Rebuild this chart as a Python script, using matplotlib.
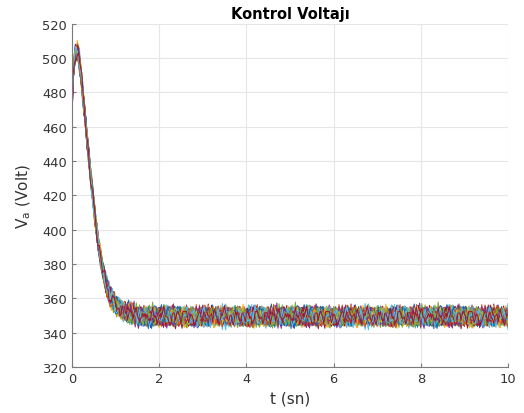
import numpy as np
import matplotlib
matplotlib.use("Agg")
import matplotlib.pyplot as plt

# sample time (s), 0.025 s step
t = np.round(np.arange(0, 10.001, 0.025), 3)

# mean transient, t = 0 ... 1.5 s
v_trans = [480, 490, 497, 502, 504, 504, 502, 497, 491, 485,
           479, 472, 466, 459, 452, 446, 439, 432, 426, 420,
           414, 408, 403, 398, 393, 389, 385, 381, 378, 375,
           372, 369, 367, 365, 363, 361.5, 360, 359, 358, 357,
           356, 355.5, 355, 354.5, 354, 353.7, 353.4, 353.1, 352.8, 352.5,
           352.2, 352, 351.8, 351.5, 351.2, 351, 350.8, 350.5, 350.2, 350,
           349.8]
v_steady = 349.5
v_mean = np.array(v_trans + [v_steady] * (len(t) - len(v_trans)))

# starting values at t = 0 for the different runs
v_start = [480, 472, 488, 462, 494, 476, 484]

# deviation around the mean (Volt), band is about +-6 V
noise = [1.2, 2.5, 0.4, -1.8, -3.1, -0.7, 1.9, 3.6, 2.2, -0.5, -2.4, -4.3,
         -2.0, 0.8, 1.5, -0.3, 2.7, 4.9, 3.1, 0.2, -1.6, -0.9, -3.5, -5.2,
         -2.8, 0.6, 2.0, 1.1, -1.3, 0.5, 3.3, 1.7, -0.8, -2.9, -1.2, 0.9,
         4.1, 5.6, 2.4, -0.2, -3.7, -2.1, 0.3, 1.8, -1.0, -4.6, -6.1, -3.0,
         -0.4, 2.2, 3.9, 1.0, -1.5, -0.6, 1.4, 2.9, 0.1, -2.6, -3.8, -1.1,
         1.6, 0.7, -0.9, 2.6, 4.4, 2.0, -1.4, -3.3, -4.9, -2.2, 0.0, 1.3,
         3.5, 6.2, 3.0, 0.5, -2.0, -1.7, 0.8, -0.5, -2.7, -4.1, -1.9, 1.1,
         2.8, 0.9, -1.2, -3.0, -0.3, 2.4, 1.2, -0.7, -2.3, 0.4, 3.7, 2.1,
         -0.1, -1.8, -5.5, -3.2, -0.6, 1.7, 4.6, 2.9, 0.6, -1.1, 0.2, -2.5,
         -4.0, -1.6, 1.0, 3.2, 1.9, -0.4, -2.2, -3.6, -0.8, 1.5, 2.3, 0.0,
         -1.9, 0.7, 2.6, 5.0, 1.8, -1.3, -3.4, -2.0, 0.3, -0.9, 1.4]
noise = np.array(noise)

n_runs = 70
colors = ["#0072BD", "#D95319", "#EDB120", "#7E2F8E",
          "#77AC30", "#4DBEEE", "#A2142F"]

fig = plt.figure(figsize=(5.24, 4.14), dpi=100)
ax = fig.add_axes([0.1374, 0.111, 0.832, 0.829])

idx = np.arange(len(t))
n = len(noise)
for k in range(n_runs):
    v = (v_mean + 0.9 * noise[(idx + 37 * k) % n]
         + 0.45 * noise[(3 * idx + 11 * k) % n])
    v[0] = v_start[k % len(v_start)]
    ax.plot(t, v, color=colors[k % len(colors)], lw=0.7)

ax.set_xlim(0, 10)
ax.set_ylim(320, 520)
ax.set_xticks(np.arange(0, 11, 2))
ax.set_yticks(np.arange(320, 521, 20))
ax.grid(True, color="#e6e6e6", lw=0.8)
ax.set_axisbelow(True)
for s in ["top", "right"]:
    ax.spines[s].set_visible(False)
for s in ["left", "bottom"]:
    ax.spines[s].set_color("#7a7a7a")
ax.tick_params(direction="in", length=3, color="#7a7a7a",
               labelsize=9.4, labelcolor="#333333")

ax.set_title("Kontrol Voltajı", fontsize=10.5, fontweight="bold", pad=4.5)
ax.set_xlabel("t (sn)", fontsize=11, color="#333333", labelpad=4)
ax.set_ylabel(r"V$_{\mathregular{a}}$ (Volt)", fontsize=11, color="#333333",
              labelpad=7)

fig.savefig("out.png", dpi=100)
